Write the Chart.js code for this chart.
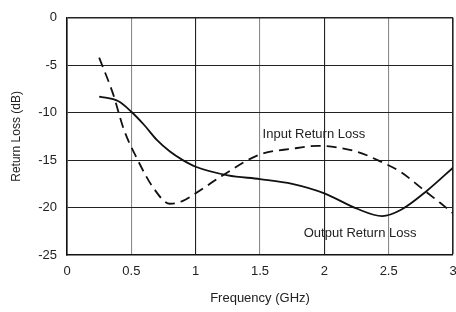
<!DOCTYPE html>
<html>
<head>
<meta charset="utf-8">
<script src="https://cdn.jsdelivr.net/npm/chart.js@4"></script>
<style>
  html, body { margin: 0; padding: 0; background: #fff; }
  #wrap { width: 456px; height: 312px; }
</style>
</head>
<body>
<div id="wrap"><canvas id="myChart" width="456" height="312"></canvas></div>
<script>
// frequency (GHz) / return loss (dB)
var inputFreq = [0.25, 0.36, 0.44, 0.55, 0.67, 0.8, 0.9, 1.0, 1.2, 1.5, 1.75, 1.95, 2.25, 2.43, 2.6, 2.75, 2.9, 3.0];
var inputLoss = [-4.2, -8.1, -11.7, -15.0, -17.9, -19.6, -19.3, -18.5, -16.7, -14.4, -13.8, -13.5, -14.1, -15.1, -16.3, -17.9, -19.5, -20.6];

var outputFreq = [0.25, 0.4, 0.5, 0.6, 0.7, 0.8, 0.9, 1.0, 1.25, 1.5, 1.75, 2.0, 2.25, 2.45, 2.6, 2.8, 3.0];
var outputLoss = [-8.3, -8.8, -9.9, -11.3, -12.9, -14.1, -15.0, -15.7, -16.6, -17.0, -17.5, -18.5, -20.1, -20.9, -20.2, -18.2, -15.8];

var xTicks = [0, 0.5, 1, 1.5, 2, 2.5, 3];
var yTicks = [0, -5, -10, -15, -20, -25];

var notes = [
  { text: 'Input Return Loss', x: 1.52, y: -12.3 },
  { text: 'Output Return Loss', x: 1.84, y: -22.7 }
];

function toPoints(xs, ys) {
  var pts = [];
  for (var i = 0; i < xs.length; i++) {
    pts.push({ x: xs[i], y: ys[i] });
  }
  return pts;
}

var tickFont = { family: '"Liberation Sans Narrow", "Liberation Sans", Arial, sans-serif', size: 13 };

var notesPlugin = {
  id: 'notes',
  afterDatasetsDraw: function(chart) {
    var ctx = chart.ctx;
    var xs = chart.scales.x, ys = chart.scales.y;
    ctx.save();
    ctx.font = '13px "Liberation Sans", Arial, sans-serif';
    ctx.textBaseline = 'middle';
    ctx.textAlign = 'left';
    notes.forEach(function(n) {
      var px = xs.getPixelForValue(n.x);
      var py = ys.getPixelForValue(n.y);
      ctx.fillStyle = '#222';
      ctx.fillText(n.text, px, py);
    });
    ctx.restore();
  }
};

new Chart(document.getElementById('myChart'), {
  type: 'line',
  data: {
    datasets: [{
      label: 'Input Return Loss',
      data: toPoints(inputFreq, inputLoss),
      borderColor: '#111',
      borderWidth: 1.8,
      borderDash: [10, 6],
      pointRadius: 0,
      fill: false,
      cubicInterpolationMode: 'monotone'
    }, {
      label: 'Output Return Loss',
      data: toPoints(outputFreq, outputLoss),
      borderColor: '#111',
      borderWidth: 1.8,
      pointRadius: 0,
      fill: false,
      cubicInterpolationMode: 'monotone'
    }]
  },
  plugins: [notesPlugin],
  options: {
    responsive: false,
    animation: false,
    layout: { padding: { top: 15, right: 3, left: 0, bottom: 0 } },
    plugins: { legend: { display: false }, tooltip: { enabled: false } },
    scales: {
      x: {
        type: 'linear',
        min: 0,
        max: 3,
        afterFit: function(s) { s.height = 57; s.paddingRight = 3; s.paddingLeft = 0; },
        afterBuildTicks: function(s) { s.ticks = xTicks.map(function(v) { return { value: v }; }); },
        ticks: { color: '#222', font: tickFont, padding: 9, maxRotation: 0, callback: function(v) { return String(v); } },
        grid: {
          drawTicks: false,
          color: function(c) { return (c.tick && c.tick.value % 1 !== 0) ? '#8a8a8a' : '#222'; },
          lineWidth: function(c) { return (c.tick && c.tick.value === 3) ? 1.6 : 1.1; }
        },
        border: { color: '#111', width: 1.6 },
        title: { display: true, text: 'Frequency (GHz)', color: '#222', font: tickFont, padding: { top: 0, bottom: 6 } }
      },
      y: {
        min: -25,
        max: 0,
        afterFit: function(s) { s.width = 67; },
        afterBuildTicks: function(s) { s.ticks = yTicks.map(function(v) { return { value: v }; }); },
        ticks: { color: '#222', font: tickFont, padding: 10, callback: function(v) { return String(v); } },
        grid: {
          drawTicks: false,
          color: '#222',
          lineWidth: function(c) { return (c.tick && c.tick.value === 0) ? 1.6 : 1.1; }
        },
        border: { color: '#111', width: 1.6 },
        title: { display: true, text: 'Return Loss (dB)', color: '#222', font: { family: '"Liberation Sans", Arial, sans-serif', size: 12 }, padding: { top: 9, bottom: 0 } }
      }
    }
  }
});
</script>
</body>
</html>
